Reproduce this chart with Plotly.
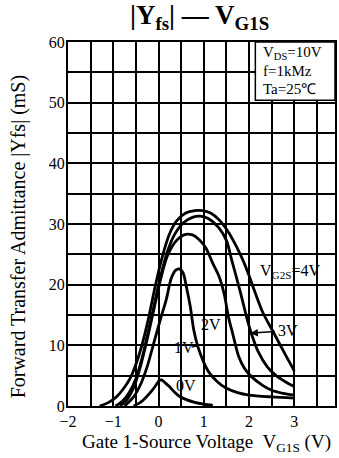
import plotly.graph_objects as go

# ---- data ----
x_0v = [-0.55, -0.4, -0.27, -0.15, -0.05, 0.02, 0.07, 0.15, 0.24, 0.35, 0.46, 0.6, 0.8, 1.0, 1.2]
y_0v = [0, 0.6, 1.5, 2.5, 3.5, 4.2, 4.3, 3.8, 3.2, 2.3, 1.6, 1.1, 0.6, 0.3, 0.1]

x_1v = [-0.75, -0.55, -0.4, -0.25, -0.1, 0.05, 0.17, 0.28, 0.38, 0.46, 0.54, 0.62, 0.7, 0.78, 0.87,
        1.0, 1.12, 1.3, 1.48, 1.75, 2.0, 2.5, 3.0]
y_1v = [0, 1.5, 3.5, 6.5, 10.5, 14.5, 17.5, 21, 22.4, 22.6, 22, 19.5, 16.5, 12.5, 9.8,
        7.2, 5.5, 4.0, 3.0, 2.2, 1.8, 1.5, 1.3]

x_2v = [-0.85, -0.7, -0.55, -0.4, -0.25, -0.1, 0.05, 0.2, 0.4, 0.6, 0.75, 0.9, 1.05, 1.2, 1.33,
        1.45, 1.55, 1.62, 1.77, 1.9, 2.06, 2.3, 2.5, 2.75, 3.0]
y_2v = [0, 1, 3, 6.5, 11, 16, 21, 24.8, 27.3, 28.3, 28.2, 27.4, 26, 23.5, 21.5,
        18.5, 14.5, 12.5, 8.2, 6.2, 4.8, 3.4, 2.6, 2.1, 1.8]

x_3v = [-0.95, -0.8, -0.65, -0.5, -0.36, -0.22, -0.1, 0.05, 0.2, 0.35, 0.55, 0.75, 0.92, 1.1, 1.33,
        1.5, 1.62, 1.8, 1.97, 2.05, 2.2, 2.4, 2.6, 2.8, 3.0]
y_3v = [0, 0.8, 2.2, 4.5, 8, 12.5, 16.5, 21.5, 25.5, 28.2, 30.2, 31.1, 31.3, 30.9, 29.4,
        27.3, 24, 19, 14, 12, 9, 6.5, 5.0, 4.0, 3.2]

x_4v = [-1.3, -1.1, -0.93, -0.78, -0.63, -0.48, -0.35, -0.22, -0.08, 0.08, 0.24, 0.4, 0.6, 0.8, 0.97,
        1.15, 1.35, 1.55, 1.72, 1.88, 2.0, 2.12, 2.3, 2.55, 2.8, 3.0]
y_4v = [0, 0.6, 1.5, 2.8, 4.5, 7.3, 10.5, 14.5, 19.5, 24.5, 28.3, 30.5, 31.8, 32.2, 32.2,
        31.8, 30.6, 28.6, 26.3, 23.8, 21.5, 19, 15.5, 12, 8.5, 5.8]

series = [(x_0v, y_0v), (x_1v, y_1v), (x_2v, y_2v), (x_3v, y_3v), (x_4v, y_4v)]

x_ticks = [-2, -1, 0, 1, 2, 3]
x_tick_text = ["\u22122", "\u22121", "0", "1", "2", "3"]
y_ticks = [0, 10, 20, 30, 40, 50, 60]
y_tick_text = ["0", "10", "20", "30", "40", "50", "60"]

SERIF = "Liberation Serif, Times New Roman, serif"

W, H = 339, 458
L, R, T, B = 68, 2, 42, 52
PW, PH = W - L - R, H - T - B


def px_to_paper(px, py):
    return (px - L) / PW, 1 - (py - T) / PH


fig = go.Figure()
for xs, ys in series:
    fig.add_trace(go.Scatter(x=xs, y=ys, mode="lines",
                             line=dict(color="black", width=2.8, shape="spline", smoothing=0.8),
                             hoverinfo="skip", showlegend=False))

# condition box (covers grid)
fig.add_shape(type="rect", xref="x", yref="y", x0=2.14, x1=3.9, y0=50.4, y1=60,
              fillcolor="white", line=dict(color="black", width=1.5), layer="above")

# short leader for 1V label
fig.add_shape(type="line", xref="x", yref="y", x0=0.73, y0=9.7, x1=0.86, y1=9.9,
              line=dict(color="black", width=1.2))

# arrow for 3V
fig.add_annotation(x=2.03, y=12, ax=2.6, ay=12.3, xref="x", yref="y", axref="x", ayref="y",
                   showarrow=True, arrowhead=2, arrowsize=1, arrowwidth=1.5, arrowcolor="black", text="")

ann_font = dict(family=SERIF, size=16, color="black")
labels = [
    (0.6, 3.4, "0V"),
    (0.56, 9.6, "1V"),
    (1.15, 13.4, "2V"),
    (2.86, 12.4, "3V"),
    (2.9, 22.2, "V<sub>G2S</sub>=4V"),
]
for lx, ly, lt in labels:
    fig.add_annotation(x=lx, y=ly, xref="x", yref="y", text=lt, showarrow=False, font=ann_font)

cond = [(53, "V<sub>DS</sub>=10V"), (71, "f=1kMz"), (89, "Ta=25\u2103")]
for py, t in cond:
    ax_, ay_ = px_to_paper(262, py)
    fig.add_annotation(x=ax_, y=ay_, xref="paper", yref="paper", text=t, showarrow=False,
                       font=dict(family=SERIF, size=15, color="black"), xanchor="left", yanchor="middle")

# title
tx, ty = px_to_paper(200, 17)
fig.add_annotation(x=tx, y=ty, xref="paper", yref="paper", showarrow=False,
                   text="<b>|Y<sub>fs</sub>| \u2014 V<sub>G1S</sub></b>",
                   font=dict(family=SERIF, size=27, color="black"), xanchor="center", yanchor="middle")

# y-axis title
yx, yy = px_to_paper(18, 236)
fig.add_annotation(x=yx, y=yy, xref="paper", yref="paper", showarrow=False, textangle=-90,
                   text="Forward Transfer Admittance |Yfs| (mS)",
                   font=dict(family=SERIF, size=20, color="black"), xanchor="center", yanchor="middle")

# x-axis title
xx, xy = px_to_paper(208, 443)
fig.add_annotation(x=xx, y=xy, xref="paper", yref="paper", showarrow=False,
                   text="Gate 1-Source Voltage  V<sub>G1S</sub> (V)",
                   font=dict(family=SERIF, size=19, color="black"), xanchor="center", yanchor="middle")

grid_minor_x = dict(tick0=-2, dtick=0.5, showgrid=True, gridcolor="black", gridwidth=1.6, ticks="")
grid_minor_y = dict(tick0=0, dtick=5, showgrid=True, gridcolor="black", gridwidth=1.6, ticks="")

fig.update_layout(
    width=W, height=H,
    margin=dict(l=L, r=R, t=T, b=B),
    paper_bgcolor="white", plot_bgcolor="white",
    xaxis=dict(range=[-2, 3.9], tickvals=x_ticks, ticktext=x_tick_text, showgrid=True, gridcolor="black", gridwidth=1.6,
               minor=grid_minor_x,
               zeroline=False, showline=True, linecolor="black", linewidth=2, mirror=True, ticks="",
               ticklabelstandoff=0,
               tickfont=dict(family=SERIF, size=16, color="black")),
    yaxis=dict(range=[0, 60], tickvals=y_ticks, ticktext=y_tick_text, showgrid=True, gridcolor="black", gridwidth=1.6,
               minor=grid_minor_y,
               zeroline=False, showline=True, linecolor="black", linewidth=2, mirror=True, ticks="",
               ticklabelstandoff=-2,
               tickfont=dict(family=SERIF, size=16, color="black")),
)

fig.write_html("out.html")
